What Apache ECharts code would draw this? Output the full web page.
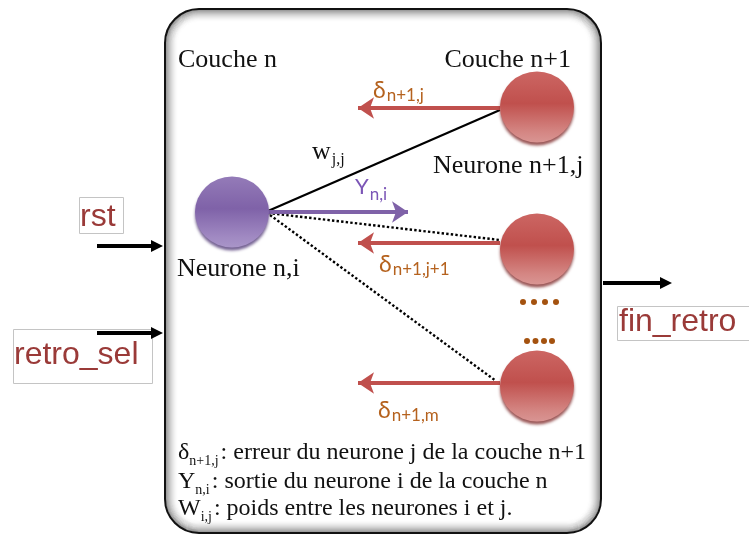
<!DOCTYPE html>
<html><head><meta charset="utf-8">
<script src="https://cdn.jsdelivr.net/npm/echarts@6/dist/echarts.min.js"></script>
<style>html,body{margin:0;padding:0;background:#fff}#c{width:749px;height:537px}</style>
</head><body><div id="c"></div>
<script>
// ---- Neurons (diagram space: x 0..749, y 0..537 downward)
const neuronNames = ['Neurone n,i', 'Neurone n+1,j', 'Neurone n+1,j+1', 'Neurone n+1,m'];
const neuronLayer = ['n', 'n+1', 'n+1', 'n+1'];
const neuronX = [232, 537, 537, 537];
const neuronY = [212, 107, 249, 386];

// ---- Error arrows δ (from layer n+1 back towards layer n)
const errorSubs = ['n+1,j', 'n+1,j+1', 'n+1,m'];
const errorArrowY = [108, 243, 383];
const errorArrowX = [500, 358];
const errorLabelX = [373, 379, 378];
const errorLabelY = [91, 265, 411];

// ---- Output Y arrow
const outArrow = [[268, 212], [408, 212]];
// ---- Weight links (solid for j, dotted for others)
const solidLinks = [[[268, 211], [500, 110]]];
const dottedLinks = [[[268, 213], [500, 240]], [[270, 215], [496, 381]]];

// ---- Ellipsis dots
const dotsX = [523, 534, 545, 556, 527, 535.5, 544, 552];
const dotsY = [302, 302, 302, 302, 341, 341, 341, 341];

// ---- Ports
const portNames = ['rst', 'retro_sel', 'fin_retro'];
const portBoxes = [[79, 197, 123, 233], [13, 329, 152, 383], [617, 306, 752, 340]];
const portTextX = [80, 14, 619];
const portTextY = [217, 355, 322];
const portArrows = [[[97, 246], [157, 246]], [[97, 333], [157, 333]], [[603, 283], [666, 283]]];

// ---- Main block
const blockRect = [165, 9, 601, 533];

// ---- Serif texts
const serifTexts = ['{m|Couche n}', '{m|Couche n+1}', '{m|w}{s|j,j}', '{m|Neurone n+1,j}', '{m|Neurone n,i}'];
const serifX = [178, 571, 312, 433, 177];
const serifY = [60, 60, 152, 166, 269];
const serifAlign = ['left', 'right', 'left', 'left', 'left'];

// ---- Legend texts
const legendTexts = [
  '{m|δ}{s|n+1,j}{m|: erreur du neurone j de la couche n+1}',
  '{m|Y}{s|n,i}{m|: sortie du neurone i de la couche n}',
  '{m|W}{s|i,j}{m|: poids entre les neurones i et j.}'
];
const legendX = [178, 178, 178];
const legendY = [453, 482, 509];

const chart = echarts.init(document.getElementById('c'), null, {renderer: 'canvas'});

function textSeries(name, xs, ys, texts, styleFn, z) {
  return {
    type: 'custom', name: name, coordinateSystem: 'cartesian2d', clip: false, z: z || 10,
    data: xs.map((x, i) => [x, ys[i]]),
    renderItem: function (params, api) {
      const p = api.coord([api.value(0), api.value(1)]);
      const i = params.dataIndex;
      const st = styleFn(i);
      return {type: 'text', x: p[0], y: p[1], style: Object.assign({text: texts[i], verticalAlign: 'middle'}, st)};
    }
  };
}

const serifFont = '"Liberation Serif", "Times New Roman", serif';
const sansFont = 'Lato, "Open Sans", sans-serif';
const orange = '#B5621E';
const purpleTxt = '#7B55B6';
const red = '#C0504D';
const purple = '#7F62A8';

const redGrad = new echarts.graphic.LinearGradient(0, 0, 0, 1, [
  {offset: 0, color: '#cc6663'}, {offset: 0.45, color: '#c0504d'}, {offset: 0.85, color: '#d48683'}, {offset: 1, color: '#d99593'}]);
const purpleGrad = new echarts.graphic.LinearGradient(0, 0, 0, 1, [
  {offset: 0, color: '#947bb8'}, {offset: 0.45, color: '#7f62a8'}, {offset: 0.85, color: '#a089c2'}, {offset: 1, color: '#a995c8'}]);

const option = {
  backgroundColor: '#ffffff',
  animation: false,
  grid: {left: 0, right: 0, top: 0, bottom: 0},
  xAxis: {type: 'value', min: 0, max: 749, show: false},
  yAxis: {type: 'value', min: 0, max: 537, inverse: true, show: false},
  series: [
    // main block
    {
      type: 'custom', name: 'block', coordinateSystem: 'cartesian2d', clip: false, z: 1,
      data: [blockRect],
      renderItem: function (params, api) {
        const a = api.coord([api.value(0), api.value(1)]);
        const b = api.coord([api.value(2), api.value(3)]);
        const w = b[0] - a[0], h = b[1] - a[1];
        const children = [{type: 'rect', shape: {x: a[0], y: a[1], width: w, height: h, r: 34}, style: {fill: '#ffffff'}}];
        const n = 14;
        for (let k = n; k >= 1; k--) {
          const t = k / n;
          children.push({type: 'rect', shape: {x: a[0] + k, y: a[1] + k, width: w - 2 * k, height: h - 2 * k, r: Math.max(34 - k, 4)},
            style: {fill: 'none', stroke: 'rgba(0,0,0,' + (0.36 * Math.pow(1 - t, 2)).toFixed(3) + ')', lineWidth: 1.5}});
        }
        children.push({type: 'rect', shape: {x: a[0], y: a[1], width: w, height: h, r: 34}, style: {fill: 'none', stroke: '#111', lineWidth: 2}});
        return {type: 'group', children: children};
      }
    },
    // port boxes
    {
      type: 'custom', name: 'ports', coordinateSystem: 'cartesian2d', clip: false, z: 2,
      data: portBoxes,
      renderItem: function (params, api) {
        const a = api.coord([api.value(0), api.value(1)]);
        const b = api.coord([api.value(2), api.value(3)]);
        return {type: 'rect', shape: {x: a[0] + 0.5, y: a[1] + 0.5, width: b[0] - a[0], height: b[1] - a[1]}, style: {fill: '#fff', stroke: '#c4c4c4', lineWidth: 1}};
      }
    },
    textSeries('portText', portTextX, portTextY, portNames, () => ({fill: '#9A3A38', font: '32px "Liberation Sans", Arial, sans-serif', align: 'left'}), 3),
    // port arrows
    {
      type: 'lines', name: 'portArrows', coordinateSystem: 'cartesian2d', z: 4,
      symbol: ['none', 'triangle'], symbolSize: [13, 12],
      lineStyle: {color: '#000', width: 4, opacity: 1},
      data: portArrows.map(c => ({coords: c}))
    },
    // weight links
    {
      type: 'lines', name: 'wSolid', coordinateSystem: 'cartesian2d', z: 5,
      lineStyle: {color: '#000', width: 2.2, opacity: 1},
      data: solidLinks.map(c => ({coords: c}))
    },
    {
      type: 'lines', name: 'wDotted', coordinateSystem: 'cartesian2d', z: 5,
      lineStyle: {color: '#000', width: 2.4, type: [2.4, 2.2], opacity: 1},
      data: dottedLinks.map(c => ({coords: c}))
    },
    // error arrows
    {
      type: 'lines', name: 'errors', coordinateSystem: 'cartesian2d', z: 6,
      symbol: ['none', 'arrow'], symbolSize: [14, 16],
      lineStyle: {color: red, width: 4, opacity: 1},
      itemStyle: {color: red},
      data: errorArrowY.map(y => ({coords: [[errorArrowX[0], y], [errorArrowX[1], y]]}))
    },
    // Y arrow
    {
      type: 'lines', name: 'Y', coordinateSystem: 'cartesian2d', z: 6,
      symbol: ['none', 'arrow'], symbolSize: [14, 16],
      lineStyle: {color: purple, width: 4, opacity: 1},
      data: [{coords: outArrow}]
    },
    // neurons
    {
      type: 'scatter', name: 'neurons', z: 8, symbol: 'circle', symbolSize: [74, 71],
      data: neuronX.map((x, i) => ({name: neuronNames[i], value: [x, neuronY[i]],
        itemStyle: {color: neuronLayer[i] === 'n' ? purpleGrad : redGrad,
          shadowBlur: 3, shadowOffsetY: 3, shadowColor: neuronLayer[i] === 'n' ? 'rgba(70,45,110,0.75)' : 'rgba(120,30,30,0.75)'}})),
      itemStyle: {opacity: 1}
    },
    // dots
    {
      type: 'scatter', name: 'dots', z: 8, symbol: 'circle', symbolSize: 6,
      itemStyle: {color: '#A4520F', opacity: 1},
      data: dotsX.map((x, i) => [x, dotsY[i]])
    },
    textSeries('serif', serifX, serifY, serifTexts, i => ({
      align: serifAlign[i],
      rich: {
        m: {fontFamily: serifFont, fontSize: 26, fill: '#111'},
        s: {fontFamily: serifFont, fontSize: 16, fill: '#111', padding: [16, 0, 0, 1]}
      }
    }), 12),
    textSeries('legend', legendX, legendY, legendTexts, i => ({
      align: 'left',
      rich: {
        m: {fontFamily: serifFont, fontSize: 24, fill: '#111'},
        s: {fontFamily: serifFont, fontSize: 14, fill: '#111', padding: [16, 2, 0, 0]}
      }
    }), 12),
    textSeries('errLabels', errorLabelX, errorLabelY, errorSubs.map(s => '{m|δ}{s|' + s + '}'), i => ({
      align: 'left',
      rich: {
        m: {fontFamily: sansFont, fontSize: 23, fill: orange},
        s: {fontFamily: sansFont, fontSize: 17, fill: orange, padding: [10, 0, 0, 1]}
      }
    }), 12),
    textSeries('yLabel', [355], [187], ['{m|Y}{s|n,i}'], i => ({
      align: 'left',
      rich: {
        m: {fontFamily: sansFont, fontSize: 22, fill: purpleTxt},
        s: {fontFamily: sansFont, fontSize: 17, fill: purpleTxt, padding: [16, 0, 0, 1]}
      }
    }), 12)
  ]
};
chart.setOption(option);
</script>
</body></html>
